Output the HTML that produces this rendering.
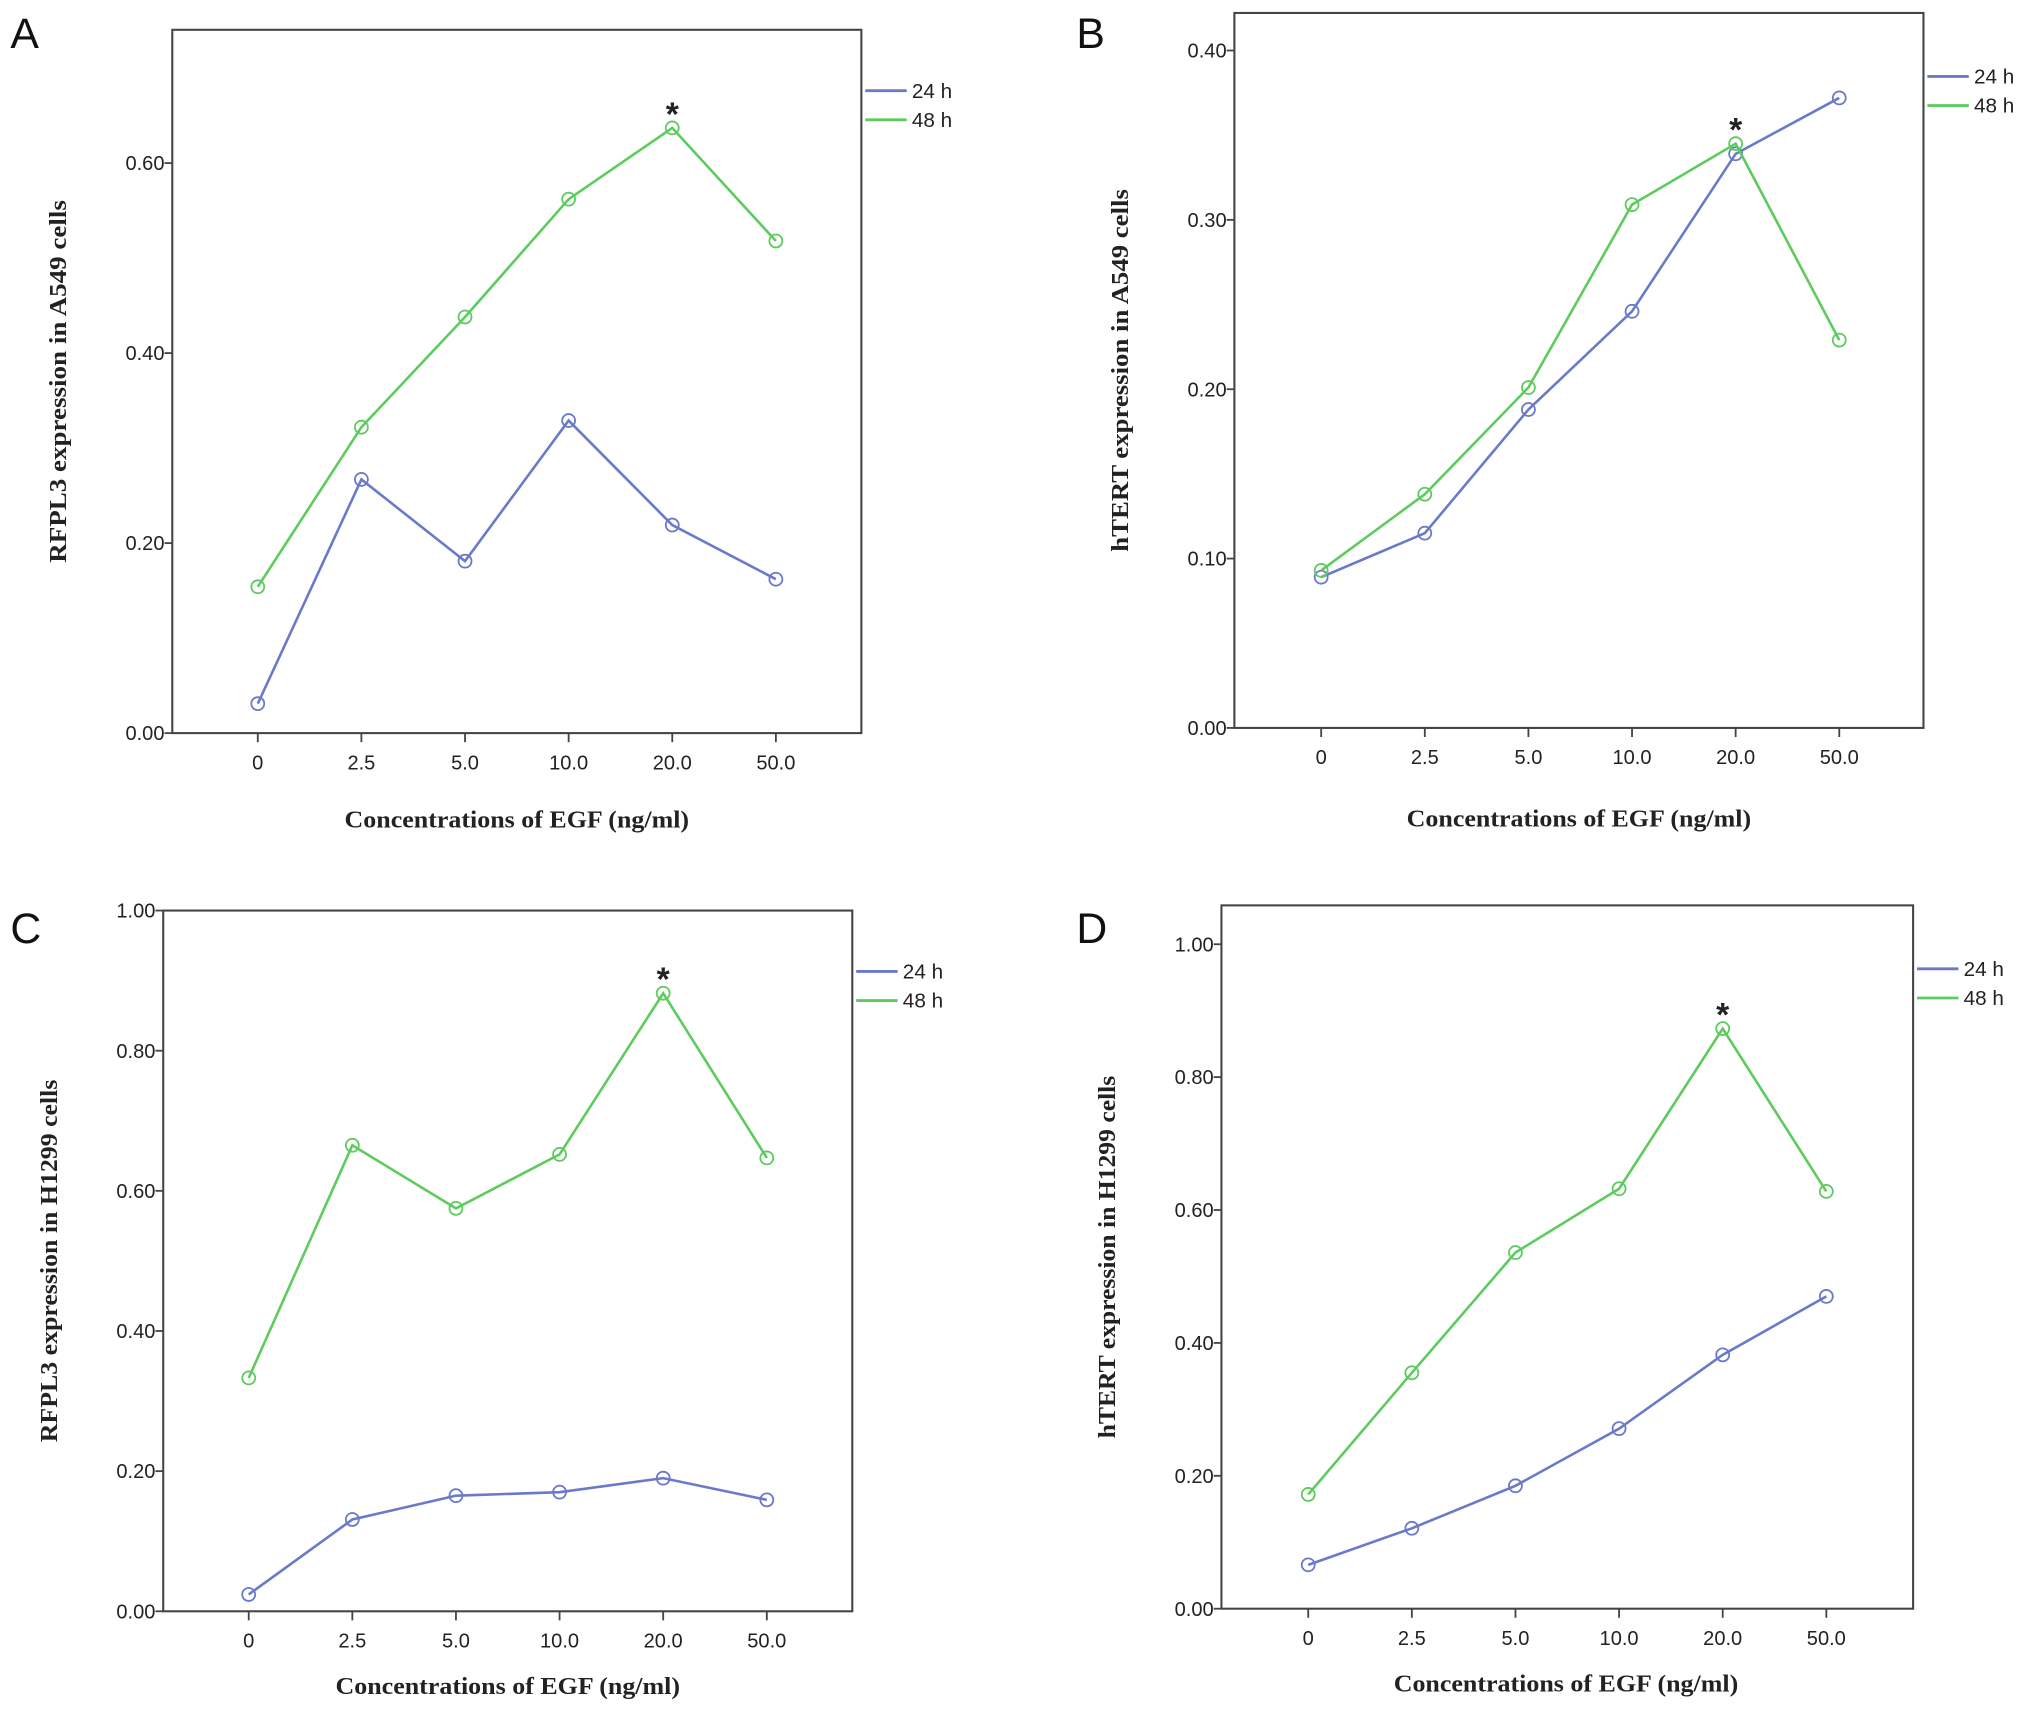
<!DOCTYPE html>
<html><head><meta charset="utf-8"><style>
html,body{margin:0;padding:0;background:#fff;}
svg{display:block;}
.tick{font-family:"Liberation Sans",sans-serif;font-size:15.5px;fill:#222;}
.ttl{font-family:"Liberation Serif",serif;font-weight:bold;font-size:19px;fill:#222;}
.leg{font-family:"Liberation Sans",sans-serif;font-size:16px;fill:#222;}
.let{font-family:"Liberation Sans",sans-serif;font-size:33px;fill:#111;}
</style></head><body>
<svg id="fig" width="2031" height="1714" viewBox="0 0 1568 1323.3" xmlns="http://www.w3.org/2000/svg"></svg>
<script>
const categories = ["0","2.5","5.0","10.0","20.0","50.0"];
const seriesNames = ["24 h","48 h"];
const a24 = [0.031,0.267,0.181,0.329,0.219,0.162];
const a48 = [0.154,0.322,0.438,0.562,0.637,0.518];
const b24 = [0.089,0.115,0.188,0.246,0.339,0.372];
const b48 = [0.093,0.138,0.201,0.309,0.345,0.229];
const c24 = [0.024,0.131,0.165,0.170,0.190,0.159];
const c48 = [0.333,0.665,0.575,0.652,0.882,0.647];
const d24 = [0.066,0.121,0.185,0.271,0.382,0.470];
const d48 = [0.172,0.355,0.536,0.632,0.873,0.628];
const aTicks = [0,0.2,0.4,0.6];
const bTicks = [0,0.1,0.2,0.3,0.4];
const cTicks = [0,0.2,0.4,0.6,0.8,1.0];
const dTicks = [0,0.2,0.4,0.6,0.8,1.0];
const starIndex = 4;

const NS="http://www.w3.org/2000/svg";
const svg=document.getElementById('fig');
function mk(tag,attrs,parent){const e=document.createElementNS(NS,tag);for(const k in attrs)e.setAttribute(k,attrs[k]);(parent||svg).appendChild(e);return e;}
const BLUE="#6b79c9", GREEN="#5dcb5d";

function panel(cfg){
  const g=mk('g',{});
  
  
  const yScale=v=>cfg.y0-(v/cfg.unit)*cfg.unitPx;
  const xScale=i=>cfg.xStart+i*80;
  const lt=mk('text',{x:cfg.lx,y:cfg.ly,class:'let'},g);lt.textContent=cfg.id;
  
  
  const box=mk('rect',{x:cfg.bx,y:cfg.by,width:cfg.bw,height:cfg.y0-cfg.by,fill:'none',stroke:'#444','stroke-width':1.6},g);
  
  
  cfg.ticks.forEach(t=>{
    const y=yScale(t);
    mk('line',{x1:cfg.bx-6,x2:cfg.bx,y1:y,y2:y,stroke:'#444','stroke-width':1.4},g);
    const tx=mk('text',{x:cfg.bx-6,y:y+5.5,class:'tick','text-anchor':'end'},g);
    tx.textContent=t.toFixed(2);
    
    
  });
  categories.forEach((c,i)=>{
    const x=xScale(i);
    mk('line',{x1:x,x2:x,y1:cfg.y0,y2:cfg.y0+7,stroke:'#444','stroke-width':1.4},g);
    const tx=mk('text',{x:x,y:cfg.y0+28,class:'tick','text-anchor':'middle'},g);
    tx.textContent=c;
    
    
  });
  const xt=mk('text',{x:cfg.bx+266,y:cfg.y0+cfg.xtOff,class:'ttl','text-anchor':'middle',textLength:266,lengthAdjust:'spacingAndGlyphs'},g);
  xt.textContent='Concentrations of EGF (ng/ml)';
  
  
  const ycx=cfg.bx-82, ycy=cfg.by+(cfg.y0-cfg.by)/2;
  const yt=mk('text',{x:ycx,y:ycy,class:'ttl','text-anchor':'middle',textLength:280,lengthAdjust:'spacingAndGlyphs',transform:`rotate(-90 ${ycx} ${ycy})`},g);
  yt.textContent=cfg.ytitle;
  
  
  [[cfg.s24,BLUE,'24h'],[cfg.s48,GREEN,'48h']].forEach(([s,col,nm])=>{
    const pts=s.map((v,i)=>xScale(i)+','+yScale(v)).join(' ');
    const pl=mk('polyline',{points:pts,fill:'none',stroke:col,'stroke-width':2},g);
    
    
    s.forEach((v,i)=>{
      const c=mk('circle',{cx:xScale(i),cy:yScale(v),r:5,fill:'none',stroke:col,'stroke-width':1.4},g);
      
      
    });
  });
  const st=mk('text',{x:xScale(starIndex),y:yScale(cfg.s48[starIndex])-2,'font-family':'Liberation Sans, sans-serif','font-size':'26px','font-weight':'bold','text-anchor':'middle',fill:'#222'},g);
  st.textContent='*';
  
  
  seriesNames.forEach((n,i)=>{
    const y=cfg.legY+i*22.5;
    const ll=mk('line',{x1:cfg.bx+cfg.bw+3,x2:cfg.bx+cfg.bw+35,y1:y,y2:y,stroke:i?GREEN:BLUE,'stroke-width':2.2},g);
    
    
    const t=mk('text',{x:cfg.bx+cfg.bw+39,y:y+5.5,class:'leg'},g);
    t.textContent=n;
    
    
  });
}
panel({id:'A',lx:8,ly:37,bx:133,by:23,bw:532,y0:566,unit:0.2,unitPx:146.7,xStart:199,ticks:aTicks,s24:a24,s48:a48,legY:70,xtOff:73,ytitle:'RFPL3 expression in A549 cells'});
panel({id:'B',lx:831,ly:37,bx:953,by:10,bw:532,y0:562,unit:0.1,unitPx:130.75,xStart:1020,ticks:bTicks,s24:b24,s48:b48,legY:59,xtOff:76,ytitle:'hTERT expression in A549 cells'});
panel({id:'C',lx:8,ly:728,bx:126,by:703,bw:532,y0:1244,unit:0.2,unitPx:108.2,xStart:192,ticks:cTicks,s24:c24,s48:c48,legY:750,xtOff:64,ytitle:'RFPL3 expression in H1299 cells'});
panel({id:'D',lx:831,ly:728,bx:943,by:699,bw:534,y0:1242,unit:0.2,unitPx:102.6,xStart:1010,ticks:dTicks,s24:d24,s48:d48,legY:748,xtOff:64,ytitle:'hTERT expression in H1299 cells'});
</script>
</body></html>
